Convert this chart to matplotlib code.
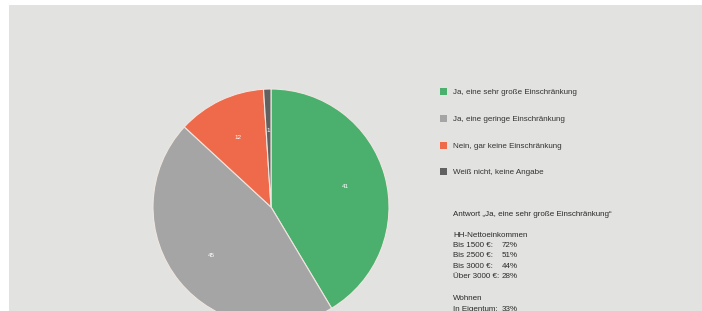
import matplotlib
matplotlib.use("Agg")
import matplotlib.pyplot as plt
from matplotlib.patches import Rectangle

categories = ["Ja, eine sehr große Einschränkung", "Ja, eine geringe Einschränkung",
              "Nein, gar keine Einschränkung", "Weiß nicht, keine Angabe"]
values = [41, 45, 12, 1]
colors = ["#4bb06e", "#a5a5a5", "#ee6a4b", "#616161"]

info_title = "Antwort \u201eJa, eine sehr große Einschränkung\u201c"
income_header = "HH-Nettoeinkommen"
income_labels = ["Bis 1500 €:", "Bis 2500 €:", "Bis 3000 €:", "Über 3000 €:"]
income_values = ["72%", "51%", "44%", "28%"]
living_header = "Wohnen"
living_labels = ["In Eigentum:"]
living_values = ["33%"]

FONT = ["Liberation Sans Narrow", "Liberation Sans", "DejaVu Sans"]
W, H = 702, 311
fig = plt.figure(figsize=(W / 100, H / 100), dpi=100)
fig.patch.set_facecolor("white")

# gray background panel
bg = fig.add_axes([0, 0, 1, 1])
bg.set_xlim(0, W)
bg.set_ylim(H, 0)
bg.axis("off")
bg.add_patch(Rectangle((9, 5), W - 9, H - 5, facecolor="#e2e2e0", edgecolor="none"))

# pie
cx, cy, r = 271, 207, 118
ax = fig.add_axes([(cx - r) / W, (H - cy - r) / H, 2 * r / W, 2 * r / H])
wedges, texts = ax.pie(values, colors=colors, startangle=90, counterclock=False,
                       radius=1, labels=[str(v) for v in values], labeldistance=0.65,
                       wedgeprops=dict(edgecolor="#f0e6e0", linewidth=0.8),
                       textprops=dict(color="white", fontsize=4.5, family=FONT,
                                      ha="center", va="center"))
ax.set_xlim(-1, 1)
ax.set_ylim(-1, 1)
ax.set_aspect("auto")
ax.axis("off")

# legend
ys = [91, 118, 145, 171]
dy = 1.5
for cat, col, y in zip(categories, colors, ys):
    bg.add_patch(Rectangle((440, y - 3.5), 7, 7, facecolor=col, edgecolor="none"))
    bg.text(453, y + dy, cat, fontsize=5.8, family=FONT, color="#333333", va="center", ha="left")

# info text
tc = "#2a2a2a"
bg.text(453, 213 + dy, info_title, fontsize=5.8, family=FONT, color=tc, va="center")
bg.text(453, 234 + dy, income_header, fontsize=5.8, family=FONT, color=tc, va="center")
for i, (lab, val) in enumerate(zip(income_labels, income_values)):
    y = 244 + i * 10.4 + dy
    bg.text(453, y, lab, fontsize=5.8, family=FONT, color=tc, va="center")
    bg.text(502, y, val, fontsize=5.8, family=FONT, color=tc, va="center")
bg.text(453, 297 + dy, living_header, fontsize=5.8, family=FONT, color=tc, va="center")
for i, (lab, val) in enumerate(zip(living_labels, living_values)):
    y = 308 + i * 10.4 + dy
    bg.text(453, y, lab, fontsize=5.8, family=FONT, color=tc, va="center")
    bg.text(502, y, val, fontsize=5.8, family=FONT, color=tc, va="center")

fig.savefig("out.png", dpi=100)
